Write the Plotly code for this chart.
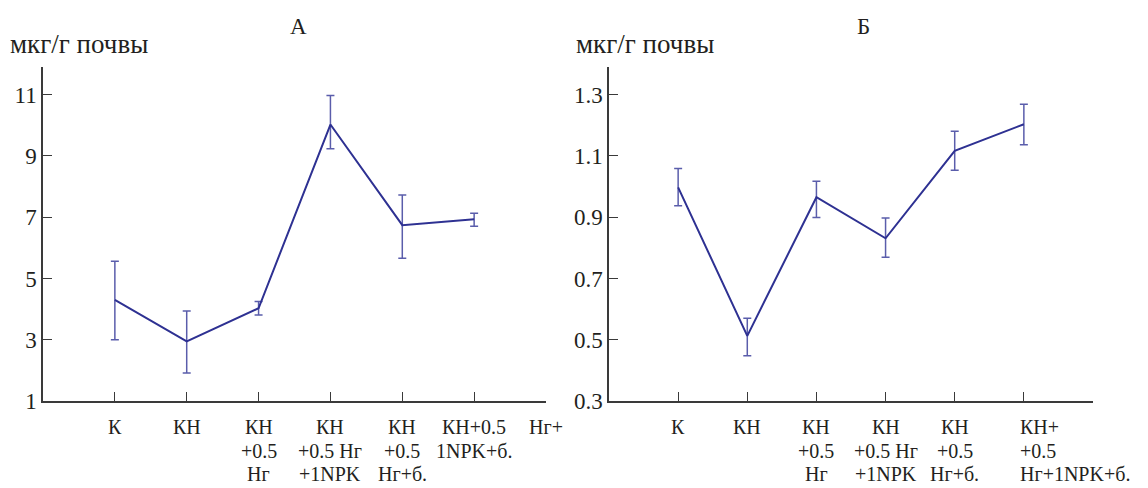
import plotly.graph_objects as go

# ---- data ----
x_pos = [0, 1, 2, 3, 4, 5]

a_mean = [4.30, 2.95, 4.03, 10.02, 6.74, 6.93]
a_err_plus = [1.26, 0.99, 0.22, 0.95, 0.98, 0.20]
a_err_minus = [1.30, 1.03, 0.22, 0.79, 1.08, 0.23]

b_mean = [0.997, 0.513, 0.965, 0.831, 1.116, 1.203]
b_err_plus = [0.062, 0.057, 0.052, 0.066, 0.064, 0.065]
b_err_minus = [0.060, 0.065, 0.066, 0.062, 0.063, 0.067]

a_labels = ["К", "КН", "КН<br>+0.5<br>Нг", "КН<br>+0.5 Нг<br>+1NPK",
            "КН<br>+0.5<br>Нг+б.", "КН+0.5<br>1NPK+б.", "Нг+"]
b_labels = ["К", "КН", "КН<br>+0.5<br>Нг", "КН<br>+0.5 Нг<br>+1NPK",
            "КН<br>+0.5<br>Нг+б.", "КН+<br>+0.5<br>Нг+1NPK+б."]

a_yticks = [1, 3, 5, 7, 9, 11]
b_yticks = [0.3, 0.5, 0.7, 0.9, 1.1, 1.3]
b_ytext = ["0.3", "0.5", "0.7", "0.9", "1.1", "1.3"]

FONT = "Liberation Serif, Times New Roman, serif"
TXT = "#231f20"
LINE = "#2e3192"
ERR = "#5a5dab"
AX = "#3a3a3a"

W, H = 1148, 500
REF_H = 488  # vertical layout is expressed in 488-px reference coordinates


def py(px):
    return 1 - px / REF_H


fig = go.Figure()

fig.add_trace(go.Scatter(
    x=x_pos, y=a_mean, mode="lines", xaxis="x", yaxis="y",
    line=dict(color=LINE, width=2),
    error_y=dict(type="data", array=a_err_plus, arrayminus=a_err_minus,
                 symmetric=False, color=ERR, thickness=1.5, width=4),
    showlegend=False))
fig.add_trace(go.Scatter(
    x=x_pos, y=b_mean, mode="lines", xaxis="x2", yaxis="y2",
    line=dict(color=LINE, width=2),
    error_y=dict(type="data", array=b_err_plus, arrayminus=b_err_minus,
                 symmetric=False, color=ERR, thickness=1.5, width=4),
    showlegend=False))

xa_common = dict(range=[-1, 6], tickvals=[0, 1, 2, 3, 4, 5, 6], showticklabels=False,
                 ticks="inside", ticklen=9, tickwidth=1.3, tickcolor=AX,
                 showline=True, linecolor=AX, linewidth=1.5, showgrid=False,
                 zeroline=False)
ya_common = dict(ticks="inside", ticklen=9, tickwidth=1.3, tickcolor=AX,
                 showline=True, linecolor=AX, linewidth=1.5, showgrid=False,
                 zeroline=False, tickfont=dict(family=FONT, size=23, color=TXT))

y_dom = [py(402), py(67)]

fig.update_layout(
    width=W, height=H,
    margin=dict(l=0, r=0, t=0, b=0),
    paper_bgcolor="white", plot_bgcolor="white",
    xaxis=dict(domain=[43 / W, 546 / W], anchor="y", **xa_common),
    yaxis=dict(domain=y_dom, anchor="x", range=[1, 11.9], tickvals=a_yticks,
               **ya_common),
    xaxis2=dict(domain=[609 / W, 1093 / W], anchor="y2", **xa_common),
    yaxis2=dict(domain=y_dom, anchor="x2", range=[0.3, 1.39], tickvals=b_yticks,
                ticktext=b_ytext, **ya_common),
)

ann = []
LF = 20
line_tops = [416, 440, 463]  # top of each label line (reference px)


def add_label(xref, i, text, left=False):
    for k, part in enumerate(text.split("<br>")):
        ann.append(dict(x=i, y=py(line_tops[k]), xref=xref, yref="paper", text=part,
                        showarrow=False, borderpad=0,
                        xanchor="left" if left else "center", yanchor="top",
                        xshift=-5 if left else 0,
                        font=dict(family=FONT, size=LF, color=TXT)))


for i, t in enumerate(a_labels):
    add_label("x", i, t)
for i, t in enumerate(b_labels):
    add_label("x2", i, t, left=(i == 5))

ann.append(dict(x=8 / W, y=py(27), xref="paper", yref="paper", text="мкг/г почвы",
                showarrow=False, xanchor="left", yanchor="top",
                font=dict(family=FONT, size=27, color=TXT)))
ann.append(dict(x=574 / W, y=py(27), xref="paper", yref="paper", text="мкг/г почвы",
                showarrow=False, xanchor="left", yanchor="top",
                font=dict(family=FONT, size=27, color=TXT)))
ann.append(dict(x=298 / W, y=py(12), xref="paper", yref="paper", text="А",
                showarrow=False, xanchor="center", yanchor="top",
                font=dict(family=FONT, size=23, color=TXT)))
ann.append(dict(x=863 / W, y=py(12), xref="paper", yref="paper", text="Б",
                showarrow=False, xanchor="center", yanchor="top",
                font=dict(family=FONT, size=23, color=TXT)))

fig.update_layout(annotations=ann)
fig.write_html("out.html")
